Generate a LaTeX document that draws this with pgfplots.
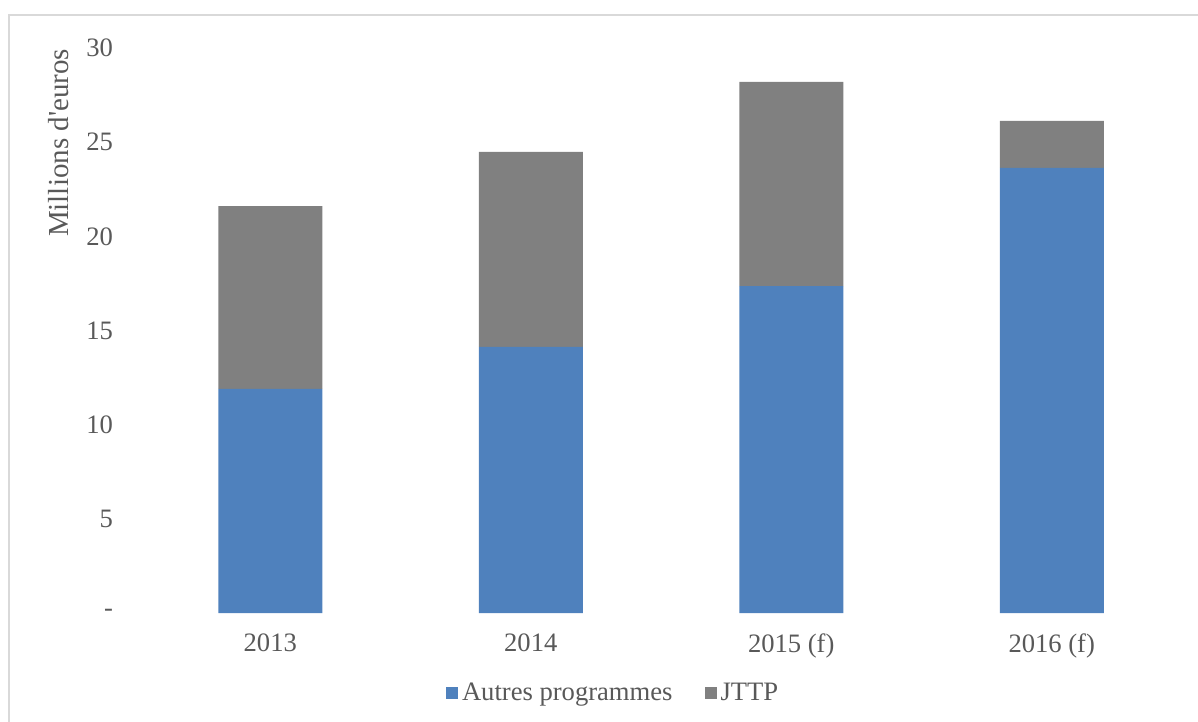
\documentclass[border=0pt]{standalone}
\usepackage{fontspec}
\setmainfont{Liberation Serif}
\usepackage{pgfplots}
\pgfplotsset{compat=1.18}
\definecolor{barblue}{HTML}{4F81BD}
\definecolor{bargray}{HTML}{808080}
\definecolor{txt}{HTML}{595959}
\definecolor{framec}{HTML}{D9D9D9}
\begin{document}
\begin{tikzpicture}
\useasboundingbox (0,0) rectangle (599pt,-361pt);
\draw[framec, line width=1pt] (4.25pt,-380pt) -- (4.25pt,-7.75pt) -- (620pt,-7.75pt);
\begin{axis}[
  at={(70pt,-306.5pt)}, anchor=south west,
  scale only axis, width=521pt, height=282.5pt,
  ybar stacked, bar width=52pt,
  xmin=-0.5, xmax=3.5, ymin=0, ymax=30,
  xtick={0,1,2,3}, xticklabels={2013,2014,2015 (f),2016 (f)},
  ytick={0,5,10,15,20,25,30}, yticklabels={{-\hspace{6pt}},5,10,15,20,25,30},
  tick style={draw=none},
  axis line style={draw=none},
  ticklabel style={font=\fontsize{13.3}{15}\selectfont, text=txt},
  yticklabel style={xshift=-10pt},
  xticklabel style={yshift=-7pt},
  ylabel={Millions d\textquotesingle euros},
  ylabel style={at={(axis description cs:-0.0777,0.832)}, anchor=center, font=\fontsize{14.5}{16}\selectfont, text=txt},
  legend style={at={(axis description cs:0.455,-0.1416)}, anchor=center, draw=none, legend columns=2, font=\fontsize{13.3}{15}\selectfont, text=txt, /tikz/every even column/.append style={column sep=14pt}},
  legend image code/.code={\fill[#1] (0pt,-3pt) rectangle (6pt,3pt);},
]
\addplot[fill=barblue, draw=none] coordinates {(0,11.9) (1,14.13) (2,17.36) (3,23.63)};
\addplot[fill=bargray, draw=none] coordinates {(0,9.7) (1,10.35) (2,10.84) (3,2.5)};
\legend{Autres programmes, JTTP}
\end{axis}
\end{tikzpicture}
\end{document}
